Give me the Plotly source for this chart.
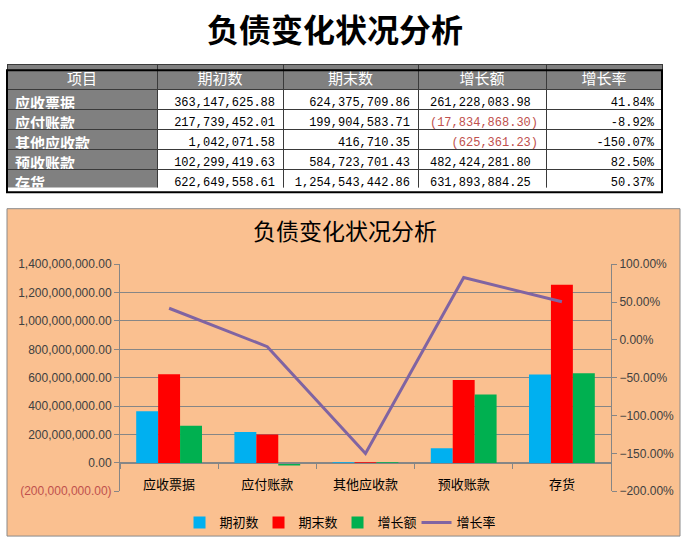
import plotly.graph_objects as go

W, H = 686, 546

# ---------------- data ----------------
items = ['应收票据', '应付账款', '其他应收款', '预收账款', '存货']
headers = ['项目', '期初数', '期末数', '增长额', '增长率']
opening = [363147625.88, 217739452.01, 1042071.58, 102299419.63, 622649558.61]
closing = [624375709.86, 199904583.71, 416710.35, 584723701.43, 1254543442.86]
change = [261228083.98, -17834868.30, -625361.23, 482424281.80, 631893884.25]
rate = [0.4184, -0.0892, -1.5007, 0.8250, 0.5037]
series_names = ['期初数', '期末数', '增长额', '增长率']
left_ticks = [-200e6, 0, 200e6, 400e6, 600e6, 800e6, 1000e6, 1200e6, 1400e6]
right_ticks = [-2.0, -1.5, -1.0, -0.5, 0.0, 0.5, 1.0]


def fmt(v):
    return f"{v:,.2f}"


def fmt_acc(v):
    return f"({abs(v):,.2f})" if v < 0 else f"{v:,.2f}\u00a0"


def fmt_tick(v):
    if v < 0:
        return f"<span style='color:#C0504D'>({abs(v):,.2f})</span>"
    return f"{v:,.2f}"


def px_x(p):
    return p / W


def px_y(p):
    return (H - p) / H


CJK = 'Noto Sans CJK SC'
MONO = 'Liberation Mono'
LAT = 'Liberation Sans'

fig = go.Figure()

# ---------------- table ----------------
n = len(items)
change_colors = ['#C0504D' if v < 0 else 'black' for v in change]
fig.add_trace(go.Table(
    domain=dict(x=[px_x(7), px_x(662)], y=[px_y(186), px_y(59)]),
    columnwidth=[150, 126, 135, 128, 116],
    header=dict(values=headers, fill_color='#808080', align='center', height=25,
                font=dict(color='white', size=15, family=CJK),
                line=dict(color='#3a3a3a', width=1)),
    cells=dict(values=[items, [fmt(v) for v in opening],
                       [fmt(v) for v in closing],
                       [fmt_acc(v) for v in change], [f"{v*100:.2f}%" for v in rate]],
               fill_color=[['#808080'] * n] + [['white'] * n] * 4,
               align=['left', 'right', 'right', 'right', 'right'],
               height=20,
               font=dict(color=[['white'] * n, ['black'] * n, ['black'] * n, change_colors, ['black'] * n],
                         size=[15, 12, 12, 12, 12],
                         weight=[700, 400, 400, 400, 400],
                         family=[CJK, MONO, MONO, MONO, MONO]),
               line=dict(color='#3a3a3a', width=1)),
))

# ---------------- chart ----------------
colors = ['#00B0F0', '#FF0000', '#00B050']
for name, vals, c in zip(series_names[:3], [opening, closing, change], colors):
    fig.add_trace(go.Bar(x=items, y=vals, name=name, marker=dict(color=c, line=dict(width=0)),
                         xaxis='x', yaxis='y'))
fig.add_trace(go.Scatter(x=items, y=rate, name=series_names[3], mode='lines',
                         line=dict(color='#8064A2', width=3), xaxis='x', yaxis='y2'))

y_dom = [px_y(497), px_y(264)]
zero_pos = y_dom[0] + (y_dom[1] - y_dom[0]) * (0 - left_ticks[0]) / (left_ticks[-1] - left_ticks[0])

fig.update_layout(
    width=W, height=H, margin=dict(l=0, r=0, t=0, b=0),
    paper_bgcolor='white', plot_bgcolor='white',
    barmode='group', bargap=0.33, bargroupgap=0,
    font=dict(family=LAT, size=12, color='#404040'),
    xaxis=dict(domain=[px_x(120), px_x(611)], anchor='free', position=zero_pos,
               type='category', showline=True, linecolor='#868686', linewidth=1,
               ticks='outside', tickson='boundaries', ticklen=5, tickcolor='#868686',
               ticklabelstandoff=10,
               tickfont=dict(family=CJK, size=13, color='black'), showgrid=False),
    yaxis=dict(domain=y_dom, range=[left_ticks[0], left_ticks[-1]],
               tickvals=left_ticks, ticktext=[fmt_tick(v) for v in left_ticks],
               showline=True, linecolor='#868686', ticks='outside', ticklen=5,
               tickcolor='#868686', gridcolor='#868686', gridwidth=1, zeroline=False,
               tickfont=dict(family=LAT, size=12, color='#404040')),
    yaxis2=dict(overlaying='y', side='right', anchor='x', range=[right_ticks[0], right_ticks[-1]],
                tickvals=right_ticks, tickformat='.2%', showgrid=False, zeroline=False,
                showline=True, linecolor='#868686', ticks='outside', ticklen=5,
                tickcolor='#868686', tickfont=dict(family=LAT, size=12, color='#404040')),
    legend=dict(orientation='h', x=0.492, xanchor='center', y=px_y(529), yanchor='middle',
                font=dict(family=CJK, size=13, color='black'), bgcolor='rgba(0,0,0,0)',
                traceorder='normal', itemwidth=30, entrywidth=34, entrywidthmode='pixels'),
    shapes=[
        dict(type='rect', xref='paper', yref='paper', x0=px_x(7), x1=px_x(680),
             y0=px_y(543), y1=px_y(207), fillcolor='#FAC090',
             line=dict(color='#8a8a8a', width=1), layer='below'),
        dict(type='rect', xref='paper', yref='paper', x0=px_x(7), x1=px_x(662),
             y0=px_y(190), y1=px_y(65), line=dict(color='black', width=2), layer='above'),
    ],
    annotations=[
        dict(text='<b>负债变化状况分析</b>', xref='paper', yref='paper', x=px_x(335), y=px_y(22),
             xanchor='center', yanchor='middle',
             showarrow=False, font=dict(family=CJK, size=32, color='black')),
        dict(text='负债变化状况分析', xref='paper', yref='paper', x=px_x(345), y=px_y(229),
             xanchor='center', yanchor='middle',
             showarrow=False, font=dict(family=CJK, size=23, color='black')),
    ],
)

fig.write_html('out.html')
